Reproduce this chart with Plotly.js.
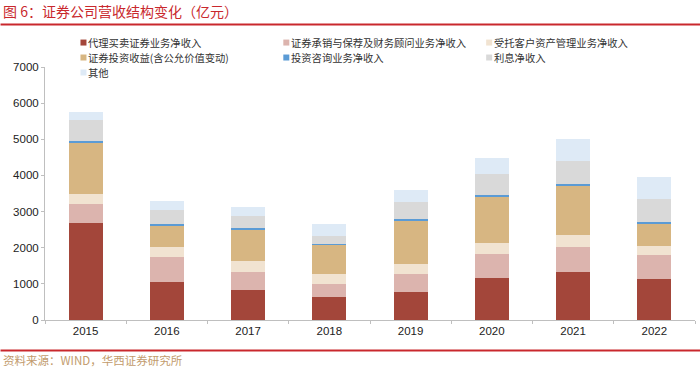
<!DOCTYPE html>
<html>
<head>
<meta charset="utf-8">
<script src="https://cdn.plot.ly/plotly-3.0.1.min.js"></script>
<style>html,body{margin:0;padding:0;background:#fff;}#chart{width:700px;height:385px;}</style>
</head>
<body>
<div id="chart"></div>
<script>
// ---- data ----
const years = ['2015','2016','2017','2018','2019','2020','2021','2022'];
const seriesNames = [
  '代理买卖证券业务净收入',
  '证券承销与保荐及财务顾问业务净收入',
  '受托客户资产管理业务净收入',
  '证券投资收益(含公允价值变动)',
  '投资咨询业务净收入',
  '利息净收入',
  '其他'
];
const brokerage    = [2691, 1053, 821, 623, 775, 1150, 1334, 1123];
const underwriting = [531, 684, 510, 370, 485, 680, 691, 662];
const assetMgmt    = [275, 296, 310, 275, 277, 296, 315, 275];
const investIncome = [1414, 568, 861, 800, 1213, 1274, 1380, 610];
const consulting   = [45, 51, 34, 32, 45, 45, 50, 50];
const interest     = [591, 382, 348, 215, 470, 600, 640, 640];
const other        = [205, 246, 230, 348, 335, 440, 590, 590];
const yTicks = [0, 1000, 2000, 3000, 4000, 5000, 6000, 7000];

const seriesValues = [brokerage, underwriting, assetMgmt, investIncome, consulting, interest, other];
const colors = ['#a3463a', '#dcb4ae', '#f1e3d1', '#d7b682', '#5b9bd5', '#d9d9d9', '#deeaf6'];

// ---- geometry helpers (pixel -> paper) ----
const W = 700, H = 385;
const mL = 44.5, mR = 5, mT = 66.5, mB = 65;
const pw = W - mL - mR, ph = H - mT - mB;
const px = x => (x - mL) / pw;
const py = y => (H - mB - y) / ph;

const traces = seriesValues.map((vals, i) => ({
  type: 'bar',
  x: years,
  y: vals,
  name: seriesNames[i],
  marker: { color: colors[i], line: { width: 0 } },
  hoverinfo: 'x+y+name'
}));

const shapes = [
  { type: 'line', xref: 'paper', yref: 'paper', x0: px(0), x1: px(700), y0: py(24), y1: py(24),
    line: { color: '#c9282d', width: 2 } },
  { type: 'line', xref: 'paper', yref: 'paper', x0: px(0), x1: px(700), y0: py(350.5), y1: py(350.5),
    line: { color: '#c9282d', width: 2 } }
];

const annotations = [
  { text: '图 6：证券公司营收结构变化（亿元）', xref: 'paper', yref: 'paper', x: px(1), y: py(10),
    xanchor: 'left', yanchor: 'middle', showarrow: false, borderpad: 0,
    font: { family: 'Noto Sans CJK SC', size: 14, color: '#c9282d' } },
  { text: '资料来源：WIND，华西证券研究所', xref: 'paper', yref: 'paper', x: px(1), y: py(360),
    xanchor: 'left', yanchor: 'middle', showarrow: false, borderpad: 0,
    font: { family: 'Noto Sans CJK SC', size: 11.5, color: '#c29b6c' } }
];

// legend, 3 columns
const legCols = [83, 286, 489];
const legRows = [42, 57, 72];
seriesNames.forEach((nm, i) => {
  const cx = legCols[i % 3], cy = legRows[Math.floor(i / 3)];
  shapes.push({ type: 'rect', xref: 'paper', yref: 'paper',
    x0: px(cx - 3), x1: px(cx + 3), y0: py(cy + 3), y1: py(cy - 3),
    fillcolor: colors[i], line: { width: 0 } });
  annotations.push({ text: nm, xref: 'paper', yref: 'paper', x: px(cx + 4), y: py(cy),
    xanchor: 'left', yanchor: 'middle', showarrow: false, borderpad: 0,
    font: { family: 'Noto Sans CJK SC', size: 10.3, color: '#333' } });
});

const layout = {
  width: W, height: H,
  margin: { l: mL, r: mR, t: mT, b: mB, pad: 0 },
  paper_bgcolor: '#fff', plot_bgcolor: '#fff',
  barmode: 'stack',
  bargap: 0.58,
  showlegend: false,
  font: { family: 'Liberation Sans, Arial, sans-serif', size: 11, color: '#222' },
  xaxis: {
    type: 'category',
    showline: true, linecolor: '#bfbfbf', linewidth: 1,
    ticks: 'outside', tickson: 'boundaries', ticklen: 3, tickcolor: '#bfbfbf',
    showgrid: false, zeroline: false,
    tickfont: { family: 'Liberation Sans, Arial, sans-serif', size: 11.5, color: '#222' }
  },
  yaxis: {
    range: [0, 7000],
    tickvals: yTicks,
    ticktext: yTicks.map(String),
    showline: true, linecolor: '#bfbfbf', linewidth: 1,
    ticks: 'outside', ticklen: 3, tickcolor: '#bfbfbf',
    showgrid: false, zeroline: false,
    tickfont: { family: 'Liberation Sans, Arial, sans-serif', size: 11.5, color: '#222' }
  },
  shapes: shapes,
  annotations: annotations
};

Plotly.newPlot('chart', traces, layout, { displayModeBar: false, staticPlot: true });
</script>
</body>
</html>
